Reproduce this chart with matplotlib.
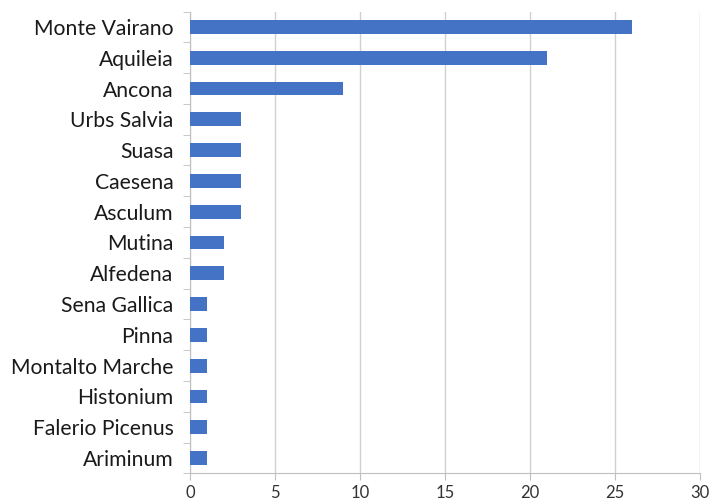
import numpy as np
import matplotlib.pyplot as plt

sites = ["Monte Vairano", "Aquileia", "Ancona", "Urbs Salvia", "Suasa", "Caesena",
         "Asculum", "Mutina", "Alfedena", "Sena Gallica", "Pinna", "Montalto Marche",
         "Histonium", "Falerio Picenus", "Ariminum"]
counts = [26, 21, 9, 3, 3, 3, 3, 2, 2, 1, 1, 1, 1, 1, 1]

plt.rcParams['font.family'] = ['Lato', 'DejaVu Sans']

fig = plt.figure(figsize=(7.15, 5.01), dpi=100)
ax = fig.add_axes((0.266, 0.055, 0.713, 0.922))

y = np.arange(len(sites))
ax.barh(y, counts, height=0.45, color='#4472C4', zorder=3)
ax.set_ylim(len(sites) - 0.5, -0.5)
ax.set_xlim(0, 30)
ax.set_xticks(range(0, 31, 5))
ax.set_yticks(y)
ax.set_yticklabels(sites, fontsize=15.2, color='#1a1a1a')
ax.set_yticks(np.arange(-0.5, len(sites), 1), minor=True)
ax.tick_params(axis='y', which='major', length=0, pad=12)
ax.tick_params(axis='y', which='minor', length=5, color='#bfbfbf')
ax.tick_params(axis='x', length=5, color='#bfbfbf', labelsize=12, labelcolor='#333333', pad=3)

ax.grid(axis='x', color='#d0d0d0', linewidth=1, zorder=0)
for s in ['top', 'right']:
    ax.spines[s].set_visible(False)
for s in ['left', 'bottom']:
    ax.spines[s].set_color('#bfbfbf')

fig.savefig('out.png', dpi=100)
